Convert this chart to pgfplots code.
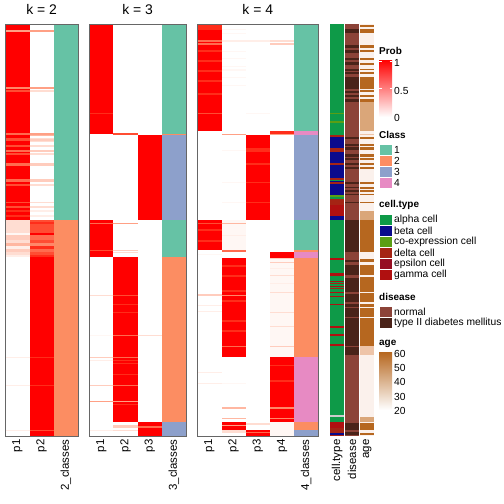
\documentclass[border=0pt]{standalone}
\usepackage{pgfplots}
\pgfplotsset{compat=1.18}
\usepackage{fontspec}
\setmainfont{Liberation Sans}
\definecolor{P9}{HTML}{FF2D1A}
\definecolor{P8}{HTML}{FF4D33}
\definecolor{P7}{HTML}{FF6B4F}
\definecolor{P6}{HTML}{FF8769}
\definecolor{P5}{HTML}{FFA085}
\definecolor{P4}{HTML}{FFB7A1}
\definecolor{P3}{HTML}{FFCCBD}
\definecolor{P2}{HTML}{FFDDD2}
\definecolor{P1}{HTML}{FFEEE8}
\definecolor{P0}{HTML}{FFF7F4}
\definecolor{C1}{HTML}{66C2A5}
\definecolor{C2}{HTML}{FC8D62}
\definecolor{C3}{HTML}{8DA0CB}
\definecolor{C4}{HTML}{E78AC3}
\definecolor{alpha}{HTML}{0E9A48}
\definecolor{beta}{HTML}{0A0A8C}
\definecolor{coexp}{HTML}{5A9E14}
\definecolor{delta}{HTML}{A52414}
\definecolor{epsilon}{HTML}{960E22}
\definecolor{gamma}{HTML}{B01010}
\definecolor{normal}{HTML}{8C4338}
\definecolor{tdm}{HTML}{4A2319}
\definecolor{ageD}{HTML}{B6671F}
\definecolor{ageM}{HTML}{DAA679}
\definecolor{ageL}{HTML}{EEC4A8}
\definecolor{ageB}{HTML}{FBF1EC}
\definecolor{ageMid}{HTML}{D9A27C}
\newcommand{\R}[5]{\addplot[draw=none,fill=#5,forget plot] coordinates {(#1,#3) (#2,#3) (#2,#4) (#1,#4)};}
\pgfplotsset{hm/.style={scale only axis, height=412bp, ymin=24, ymax=436, y dir=reverse, xmin=0,
  ytick=\empty, major tick length=0pt, axis on top,
  axis line style={draw=black!60, line width=0.9bp},
  xticklabel style={rotate=90, anchor=east, font=\fontsize{11.5}{11.5}\selectfont},
  title style={font=\fontsize{14}{14}\selectfont, yshift=0bp}, anchor=north west}}
\begin{document}
\begin{tikzpicture}
\path[use as bounding box] (0,0) rectangle (504bp,-504bp);
% ---------------- k = 2
\begin{axis}[hm, at={(5.3bp,-24bp)}, width=72.7bp, xmax=3, title={k = 2},
  xtick={0.5,1.5,2.5}, xticklabels={p1,p2,2\_classes}]
\R{0}{1}{24}{220}{red}
\R{0}{1}{30}{32}{P5}\R{0}{1}{87}{89}{P6}\R{0}{1}{90}{92}{P8}\R{0}{1}{133}{135}{P7}
\R{0}{1}{138}{139}{P8}\R{0}{1}{139}{141}{P8}\R{0}{1}{145}{147}{P8}\R{0}{1}{150}{152}{P7}
\R{0}{1}{153}{155}{P8}\R{0}{1}{163}{166}{P7}\R{0}{1}{179}{182}{P7}\R{0}{1}{184}{186}{P8}
\R{0}{1}{202}{203}{P8}\R{0}{1}{206}{208}{P8}\R{0}{1}{210}{212}{P9}\R{0}{1}{215}{217}{P9}
\R{0}{1}{220}{233}{P2}\R{0}{1}{233}{235}{P0}\R{0}{1}{235}{240}{P3}\R{0}{1}{240}{243}{P2}
\R{0}{1}{243}{246}{P4}\R{0}{1}{246}{249}{P1}\R{0}{1}{249}{252}{P3}\R{0}{1}{252}{255}{P2}
\R{0}{1}{255}{257}{P1}\R{0}{1}{357}{358}{P1}\R{0}{1}{385}{386}{P1}\R{0}{1}{430}{431}{P1}
\R{1}{2}{30}{32}{P5}\R{1}{2}{87}{89}{P5}\R{1}{2}{90}{92}{P2}\R{1}{2}{133}{135}{P5}
\R{1}{2}{135}{136}{P4}\R{1}{2}{138}{139}{P2}\R{1}{2}{139}{141}{P3}\R{1}{2}{141}{142}{P2}
\R{1}{2}{145}{147}{P2}\R{1}{2}{150}{152}{P3}\R{1}{2}{153}{155}{P2}\R{1}{2}{163}{166}{P3}
\R{1}{2}{179}{182}{P3}\R{1}{2}{184}{186}{P2}\R{1}{2}{202}{203}{P2}\R{1}{2}{206}{208}{P2}
\R{1}{2}{210}{212}{P1}\R{1}{2}{215}{217}{P1}
\R{1}{2}{220}{222}{P8}\R{1}{2}{222}{224}{P9}\R{1}{2}{224}{233}{P8}\R{1}{2}{233}{235}{red}
\R{1}{2}{235}{240}{P7}\R{1}{2}{240}{243}{P8}\R{1}{2}{243}{246}{P6}\R{1}{2}{246}{249}{P9}
\R{1}{2}{249}{252}{P7}\R{1}{2}{252}{255}{P8}\R{1}{2}{255}{257}{P9}
\R{1}{2}{257}{436}{red}\R{1}{2}{357}{358}{P9}\R{1}{2}{385}{386}{P9}\R{1}{2}{430}{431}{P8}
\R{2}{3}{24}{220}{C1}\R{2}{3}{220}{436}{C2}
\end{axis}
% ---------------- k = 3
\begin{axis}[hm, at={(89.3bp,-24bp)}, width=96.7bp, xmax=4, title={k = 3},
  xtick={0.5,1.5,2.5,3.5}, xticklabels={p1,p2,p3,3\_classes}]
\R{0}{1}{24}{133.5}{red}\R{0}{1}{113}{114}{P9}
\R{0}{1}{220}{257}{red}\R{0}{1}{223}{224}{P7}\R{0}{1}{250}{251}{P8}
\R{0}{1}{295}{296}{P2}\R{0}{1}{335}{336}{P0}\R{0}{1}{357}{358}{P3}\R{0}{1}{360}{361}{P1}
\R{0}{1}{385}{386}{P3}\R{0}{1}{401}{402}{P5}\R{0}{1}{430}{431}{P1}
\R{1}{2}{133.3}{134.7}{P8}\R{1}{2}{223}{224}{P5}\R{1}{2}{250}{251}{P3}\R{1}{2}{252}{253}{P2}
\R{1}{2}{257}{422}{red}
\R{1}{2}{295}{296}{P8}\R{1}{2}{304}{305}{P9}\R{1}{2}{312}{313}{P9}\R{1}{2}{335}{336}{P7}
\R{1}{2}{357}{358}{P7}\R{1}{2}{360}{361}{P9}\R{1}{2}{363}{364}{P9}\R{1}{2}{374}{375}{P9}
\R{1}{2}{385}{386}{P7}\R{1}{2}{401}{402}{P5}\R{1}{2}{404}{405}{P9}
\R{1}{2}{425}{428}{P3}\R{1}{2}{430}{431}{P2}
\R{2}{3}{135}{220}{red}\R{2}{3}{335}{336}{P2}\R{2}{3}{422}{436}{red}\R{2}{3}{426}{428}{P7}
\R{3}{4}{24}{133.5}{C1}\R{3}{4}{133.5}{135}{C2}\R{3}{4}{135}{220}{C3}\R{3}{4}{220}{257}{C1}
\R{3}{4}{257}{422}{C2}\R{3}{4}{422}{436}{C3}
\end{axis}
% ---------------- k = 4
\begin{axis}[hm, at={(197.3bp,-24bp)}, width=121bp, xmax=5, title={k = 4},
  xtick={0.5,1.5,2.5,3.5,4.5}, xticklabels={p1,p2,p3,p4,4\_classes}]
\R{0}{1}{24}{131}{red}\R{0}{1}{24}{30}{P9}\R{0}{1}{40}{42}{P7}\R{0}{1}{43}{45}{P7}
\R{0}{1}{50}{52}{P9}\R{0}{1}{60}{62}{P9}\R{0}{1}{70}{72}{P9}\R{0}{1}{80}{82}{P9}
\R{0}{1}{93}{95}{P9}\R{0}{1}{113}{114}{P8}
\R{0}{1}{220}{250}{red}\R{0}{1}{223}{224}{P8}\R{0}{1}{229}{231}{P9}\R{0}{1}{240}{242}{P9}
\R{0}{1}{254}{255}{P0}\R{0}{1}{294}{296}{P3}\R{0}{1}{305}{306}{P1}\R{0}{1}{311}{312}{P1}
\R{0}{1}{372}{373}{P1}\R{0}{1}{383}{384}{P1}
\R{1}{2}{29}{30}{P0}\R{1}{2}{33}{34}{P0}\R{1}{2}{40}{42}{P1}\R{1}{2}{51}{52}{P0}
\R{1}{2}{58}{59}{P0}\R{1}{2}{66}{67}{P0}\R{1}{2}{69}{71}{P0}\R{1}{2}{77}{78}{P0}
\R{1}{2}{85}{86}{P0}\R{1}{2}{134}{135}{P5}\R{1}{2}{150}{151}{P0}\R{1}{2}{182}{183}{P0}
\R{1}{2}{202}{203}{P0}\R{1}{2}{220}{250}{P0}\R{1}{2}{223}{224}{P4}\R{1}{2}{235}{236}{P1}
\R{1}{2}{250}{251.7}{P7}
\R{1}{2}{258}{357}{red}\R{1}{2}{265}{267}{P9}\R{1}{2}{275}{277}{P9}\R{1}{2}{290}{292}{P9}
\R{1}{2}{300}{302}{P9}\R{1}{2}{320}{322}{P9}\R{1}{2}{330}{332}{P9}\R{1}{2}{295}{296}{P6}
\R{1}{2}{346}{347}{P7}\R{1}{2}{383}{384}{P0}\R{1}{2}{407}{409}{P4}\R{1}{2}{418}{419}{P4}
\R{1}{2}{422}{430}{red}\R{1}{2}{425}{426}{P5}\R{1}{2}{430}{433}{P2}
\R{2}{3}{40}{42}{P1}\R{2}{3}{113}{114}{P0}\R{2}{3}{135}{220}{red}\R{2}{3}{148}{152}{P9}
\R{2}{3}{163}{165}{P9}\R{2}{3}{182}{183}{P9}\R{2}{3}{202}{203}{P9}\R{2}{3}{423}{425}{P2}
\R{2}{3}{430}{436}{red}\R{2}{3}{432}{433}{P7}
\R{3}{4}{40}{42}{P2}\R{3}{4}{43}{45}{P3}\R{3}{4}{131}{134}{P9}\R{3}{4}{134}{135}{P5}
\R{3}{4}{252}{258}{red}\R{3}{4}{258}{357}{P0}\R{3}{4}{258}{259}{P3}\R{3}{4}{262}{263}{P3}
\R{3}{4}{268}{269}{P1}\R{3}{4}{275}{276}{P2}\R{3}{4}{283}{284}{P1}\R{3}{4}{292}{293}{P2}
\R{3}{4}{312}{313}{P2}\R{3}{4}{326}{327}{P2}\R{3}{4}{346}{347}{P3}
\R{3}{4}{357}{422}{red}\R{3}{4}{365}{366}{P9}\R{3}{4}{380}{382}{P9}\R{3}{4}{407}{409}{P6}
\R{3}{4}{418}{419}{P6}\R{3}{4}{422}{436}{P0}
\R{4}{5}{24}{131}{C1}\R{4}{5}{131}{135}{C4}\R{4}{5}{135}{220}{C3}\R{4}{5}{220}{250}{C1}
\R{4}{5}{250}{252}{C2}\R{4}{5}{252}{258}{C4}\R{4}{5}{258}{357}{C2}\R{4}{5}{357}{422}{C4}
\R{4}{5}{422}{430}{C2}\R{4}{5}{430}{436}{C3}
\end{axis}
% ---------------- annotations
\begin{axis}[hm, at={(330bp,-24bp)}, width=44.3bp, xmax=2.95, axis line style={draw=none},
  xtick={0.475,1.475,2.475}, xticklabels={cell.type,disease,age}]
% cell.type
\R{0}{0.95}{24}{436}{alpha}
\R{0}{0.95}{112.5}{113.5}{coexp}\R{0}{0.95}{121}{123}{coexp}
\R{0}{0.95}{135}{137}{delta}\R{0}{0.95}{137}{148}{beta}\R{0}{0.95}{148}{152}{delta}
\R{0}{0.95}{152}{163}{beta}\R{0}{0.95}{163}{165}{delta}\R{0}{0.95}{165}{178}{beta}
\R{0}{0.95}{178}{179.5}{delta}\R{0}{0.95}{181}{182}{beta}\R{0}{0.95}{182}{184}{delta}
\R{0}{0.95}{184}{195}{beta}\R{0}{0.95}{195}{197}{coexp}\R{0}{0.95}{199}{205}{delta}
\R{0}{0.95}{205}{211}{gamma}\R{0}{0.95}{211}{216}{gamma}\R{0}{0.95}{216}{220}{beta}
\R{0}{0.95}{258}{260}{gamma}\R{0}{0.95}{273}{276}{gamma}\R{0}{0.95}{280.7}{281.7}{gamma}
\R{0}{0.95}{283}{284}{delta}\R{0}{0.95}{285.7}{286.7}{gamma}\R{0}{0.95}{288}{289}{delta}
\R{0}{0.95}{291.7}{293.3}{gamma}\R{0}{0.95}{295.7}{296.7}{gamma}\R{0}{0.95}{304}{305}{gamma}
\R{0}{0.95}{326}{327.7}{gamma}\R{0}{0.95}{334}{335.7}{gamma}\R{0}{0.95}{344}{345.7}{gamma}
\R{0}{0.95}{415}{417}{black!20}\R{0}{0.95}{422}{428}{gamma}\R{0}{0.95}{428}{433}{delta}
\R{0}{0.95}{433}{435}{beta}\R{0}{0.95}{435}{436}{delta}
% disease
\R{1}{1.95}{24}{436}{normal}
\R{1}{1.95}{29}{33}{tdm}\R{1}{1.95}{45}{48}{tdm}\R{1}{1.95}{50}{53}{tdm}\R{1}{1.95}{58}{60}{tdm}
\R{1}{1.95}{62}{65}{tdm}\R{1}{1.95}{69}{71}{tdm}\R{1}{1.95}{72}{74}{tdm}\R{1}{1.95}{77}{89}{tdm}
\R{1}{1.95}{91}{93}{tdm}\R{1}{1.95}{95}{97}{tdm}\R{1}{1.95}{99}{102}{tdm}\R{1}{1.95}{137}{139}{tdm}
\R{1}{1.95}{144}{146}{tdm}\R{1}{1.95}{147}{150}{tdm}\R{1}{1.95}{154}{157}{tdm}\R{1}{1.95}{158}{160}{tdm}
\R{1}{1.95}{163}{165}{tdm}\R{1}{1.95}{167}{169}{tdm}\R{1}{1.95}{182}{184}{tdm}\R{1}{1.95}{187}{188}{tdm}
\R{1}{1.95}{190}{192}{tdm}\R{1}{1.95}{194}{195}{tdm}\R{1}{1.95}{202}{203}{tdm}\R{1}{1.95}{220}{252}{tdm}
\R{1}{1.95}{260}{262}{tdm}\R{1}{1.95}{265}{275}{tdm}\R{1}{1.95}{278}{292}{tdm}\R{1}{1.95}{294}{302}{tdm}
\R{1}{1.95}{304}{307}{tdm}\R{1}{1.95}{308}{317}{tdm}\R{1}{1.95}{318}{346}{tdm}\R{1}{1.95}{347}{355}{tdm}
\R{1}{1.95}{423}{430}{tdm}\R{1}{1.95}{432}{435}{tdm}
% age
\R{2}{2.95}{24}{436}{ageB}
\R{2}{2.95}{25}{27}{ageD}\R{2}{2.95}{29}{33}{ageD}\R{2}{2.95}{45}{48}{ageD}\R{2}{2.95}{50}{52}{ageD}
\R{2}{2.95}{58}{60}{ageD}\R{2}{2.95}{63}{65}{ageD}\R{2}{2.95}{69}{70}{ageD}\R{2}{2.95}{72}{74}{ageD}
\R{2}{2.95}{77}{89}{ageD}\R{2}{2.95}{90}{92}{ageD}\R{2}{2.95}{95}{97}{ageD}\R{2}{2.95}{99}{102}{ageD}
\R{2}{2.95}{102}{131}{ageM}\R{2}{2.95}{133.5}{134.5}{ageL}
\R{2}{2.95}{137}{139}{ageD}\R{2}{2.95}{144}{146}{ageD}\R{2}{2.95}{147}{150}{ageD}\R{2}{2.95}{154}{157}{ageD}
\R{2}{2.95}{158}{160}{ageD}\R{2}{2.95}{163}{165}{ageD}\R{2}{2.95}{167}{169}{ageD}\R{2}{2.95}{182}{184}{ageD}
\R{2}{2.95}{187}{189}{ageD}\R{2}{2.95}{190}{192}{ageD}\R{2}{2.95}{194}{195}{ageD}\R{2}{2.95}{202}{203}{ageD}
\R{2}{2.95}{211}{220}{ageM}\R{2}{2.95}{220}{252}{ageD}\R{2}{2.95}{259}{262}{ageD}\R{2}{2.95}{265}{275}{ageD}
\R{2}{2.95}{277}{292}{ageD}\R{2}{2.95}{293}{302}{ageD}\R{2}{2.95}{304}{307}{ageD}\R{2}{2.95}{308}{317}{ageD}
\R{2}{2.95}{318}{346}{ageD}\R{2}{2.95}{346}{355}{ageL}\R{2}{2.95}{417}{422}{ageM}
\R{2}{2.95}{423}{430}{ageD}\R{2}{2.95}{433}{435}{ageD}
\end{axis}
% ---------------- legends
\begin{scope}[x=1bp,y=-1bp]
\tikzset{lt/.style={anchor=west, inner sep=0pt, font=\bfseries\fontsize{10}{10}\selectfont},
         ll/.style={anchor=west, inner sep=0pt, font=\fontsize{10.3}{10.3}\selectfont},
         sq/.style={draw=white, line width=0.5bp}}
\node[lt] at (379,51) {Prob};
\shade[top color=red, middle color=P5, bottom color=white] (379,60) rectangle (392,117);
\draw[white, line width=0.6bp] (379,88.5) -- (381.5,88.5) (389.5,88.5) -- (392,88.5)
  (379,61) -- (381.5,61) (389.5,61) -- (392,61);
\node[ll] at (394,62.5) {1};
\node[ll] at (394,90.5) {0.5};
\node[ll] at (394,118) {0};
\node[lt] at (379,135) {Class};
\foreach \c/\t [count=\i from 0] in {C1/1,C2/2,C3/3,C4/4}{
  \fill[\c,sq] (379,144+11*\i) rectangle (392,155+11*\i);
  \node[ll] at (394,149.5+11*\i) {\t};}
\node[lt] at (379,205) {cell.type};
\foreach \c/\t [count=\i from 0] in {alpha/alpha cell,beta/beta cell,coexp/co-expression cell,delta/delta cell,epsilon/epsilon cell,gamma/gamma cell}{
  \fill[\c,sq] (379,214+11*\i) rectangle (392,225+11*\i);
  \node[ll] at (394,219.5+11*\i) {\t};}
\node[lt] at (379,297) {disease};
\foreach \c/\t [count=\i from 0] in {normal/normal,tdm/type II diabetes mellitus}{
  \fill[\c,sq] (379,306+11*\i) rectangle (392,317+11*\i);
  \node[ll] at (394,311.5+11*\i) {\t};}
\node[lt] at (379,344) {age};
\shade[top color=ageD, middle color=ageMid, bottom color=white] (379,352) rectangle (392,410);
\foreach \v/\y in {60/354,50/368,40/382,30/396.5,20/410.5}{
  \node[ll] at (394,\y) {\v};}
\end{scope}
\end{tikzpicture}
\end{document}
